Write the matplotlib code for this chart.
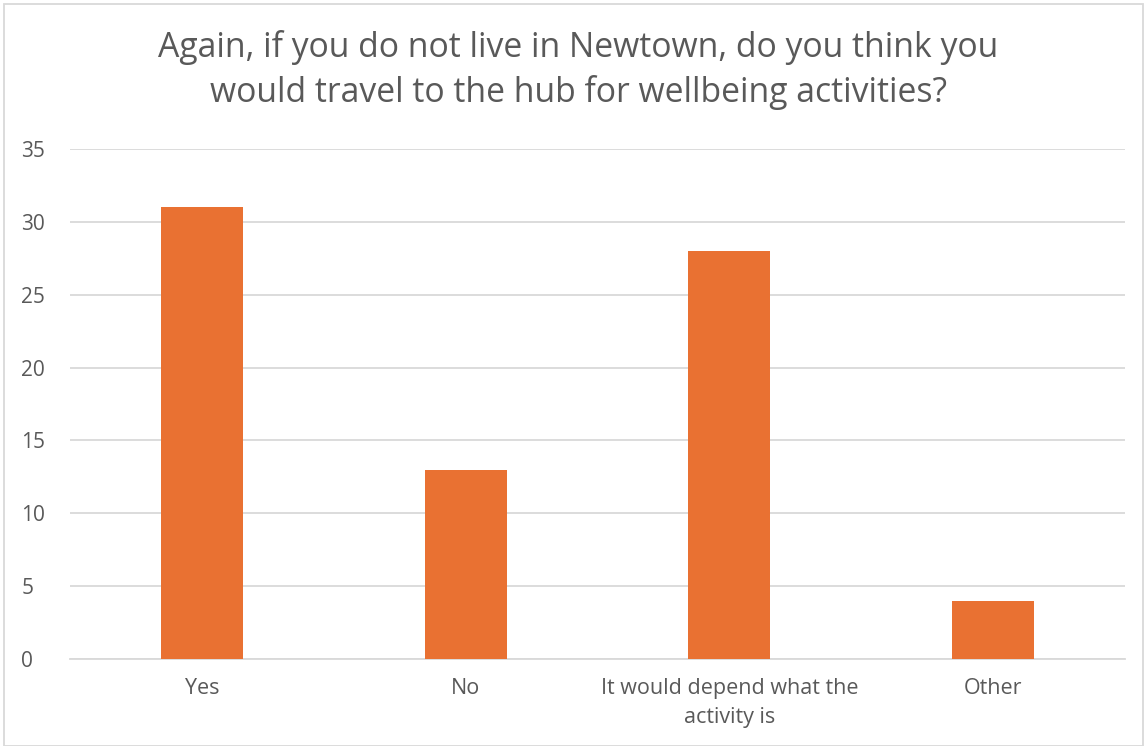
import matplotlib
matplotlib.use("Agg")
import matplotlib.pyplot as plt
from matplotlib.patches import Rectangle

categories = ["Yes", "No", "It would depend what the\nactivity is", "Other"]
values = [31, 13, 28, 4]
yticks = [0, 5, 10, 15, 20, 25, 30, 35]
title = "Again, if you do not live in Newtown, do you think you\nwould travel to the hub for wellbeing activities?"

plt.rcParams['font.family'] = ['Open Sans', 'DejaVu Sans']

fig = plt.figure(figsize=(11.47, 7.46), dpi=100)
ax = fig.add_axes([70/1147, 87/746, 1055/1147, 510/746])

x = list(range(len(categories)))
ax.bar(x, values, width=0.31, color="#E97132", zorder=3)
ax.set_xlim(-0.5, len(categories) - 0.5)
ax.set_ylim(0, 35)
ax.set_yticks(yticks)
ax.set_xticks(x)
ax.set_xticklabels(categories, fontsize=15.5, color="#595959", linespacing=1.45)
ax.set_yticklabels([str(t) for t in yticks], fontsize=15, color="#595959")
ax.tick_params(axis='x', length=0, pad=14)
ax.tick_params(axis='y', length=0, pad=35)
ax.grid(axis='y', color="#D9D9D9", linewidth=1.3, zorder=0)
for s in ['top', 'right', 'left']:
    ax.spines[s].set_visible(False)
ax.spines['bottom'].set_color("#D9D9D9")
ax.spines['bottom'].set_linewidth(1.3)
for lbl in ax.get_yticklabels():
    lbl.set_horizontalalignment('left')

fig.text(578/1147, 1 - 70/746, title, ha='center', va='center', fontsize=24.3,
         color="#595959", linespacing=1.35)

fig.patches.append(Rectangle((4/1147, 0), 1 - 8/1147, 1 - 4/746, transform=fig.transFigure,
                             fill=False, edgecolor="#D9D9D9", linewidth=1.3))

fig.savefig("out.png", dpi=100)
